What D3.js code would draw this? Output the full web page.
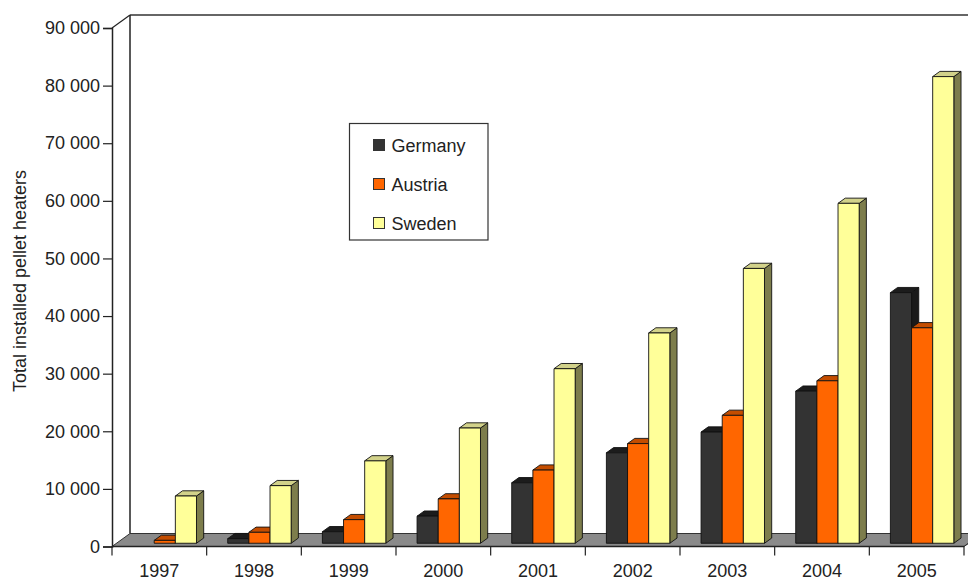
<!DOCTYPE html>
<html>
<head>
<meta charset="utf-8">
<script src="https://cdn.jsdelivr.net/npm/d3@7/dist/d3.min.js"></script>
<style>
  html, body { margin: 0; padding: 0; background: #ffffff; }
  svg { display: block; font-family: "Liberation Sans", Arial, sans-serif; }
</style>
</head>
<body>
<svg id="chart" width="968" height="580"></svg>
<script>
// Installed pellet heaters per country, 1997–2005
const years = ["1997", "1998", "1999", "2000", "2001", "2002", "2003", "2004", "2005"];
const countries = ["Germany", "Austria", "Sweden"];
const germany = [0, 800, 2000, 4700, 10500, 15700, 19300, 26400, 43500];
const austria = [500, 1900, 4100, 7700, 12700, 17300, 22200, 28200, 37400];
const sweden  = [8200, 10000, 14300, 20000, 30300, 36500, 47700, 59000, 81000];
const yTickValues = [0, 10000, 20000, 30000, 40000, 50000, 60000, 70000, 80000, 90000];
const yTitle = "Total installed pellet heaters";

const seriesValues = { Germany: germany, Austria: austria, Sweden: sweden };

// face colours: front, top, side
const palette = {
  Germany: { front: "#333333", top: "#1c1c1c", side: "#1a1a1a" },
  Austria: { front: "#ff6600", top: "#c44d00", side: "#9e3f00" },
  Sweden:  { front: "#ffff99", top: "#d2d28a", side: "#7d7d4c" }
};

const svg = d3.select("#chart");

// front plane geometry and oblique depth offset
const left = 112, right = 964, base = 546.5, topY = 28;
const DX = 18, DY = -13;          // full floor depth projected
const z0 = 0.25, z1 = 0.65;        // bar depth extent (fraction of floor)

const x0 = d3.scaleBand().domain(years).range([left, right]);
const bw = x0.bandwidth();
const x1 = d3.scaleBand().domain(countries).range([bw * 0.175, bw * 0.845]);
const y = d3.scaleLinear().domain([0, 90000]).range([base, topY]);

const proj = (x, yy, z) => [x + z * DX, yy + z * DY];
const poly = pts => pts.map(p => p.join(",")).join(" ");

// left side wall and back wall outline
const wall = svg.append("g");
wall.append("polygon")
  .attr("points", poly([[left, base], [left, topY], proj(left, topY, 1), proj(left, base, 1)]))
  .attr("fill", "#ffffff");
wall.append("line")
  .attr("x1", left + DX).attr("y1", topY + DY).attr("x2", 968).attr("y2", topY + DY)
  .attr("stroke", "#666").attr("stroke-width", 2);
wall.append("line")
  .attr("x1", left + DX).attr("y1", topY + DY).attr("x2", left + DX).attr("y2", base + DY)
  .attr("stroke", "#222").attr("stroke-width", 1.5);
wall.append("line")
  .attr("x1", left).attr("y1", topY).attr("x2", left + DX).attr("y2", topY + DY)
  .attr("stroke", "#222").attr("stroke-width", 1.2);

// floor
svg.append("polygon")
  .attr("points", poly([[left, base], [right, base], proj(right, base, 1), proj(left, base, 1)]))
  .attr("fill", "#8a8a8a")
  .attr("stroke", "#333").attr("stroke-width", 1);

// bars, drawn left to right so each covers its neighbour's side face
const bars = [];
years.forEach((yr, i) => {
  countries.forEach(c => {
    bars.push({ year: yr, country: c, value: seriesValues[c][i] });
  });
});

const gBars = svg.append("g");
bars.filter(d => d.value > 0).forEach(d => {
  const xa = x0(d.year) + x1(d.country);
  const xb = xa + x1.bandwidth();
  const yt = y(d.value), yb = y(0);
  const col = palette[d.country];
  const g = gBars.append("g")
    .attr("stroke", "#111").attr("stroke-width", 0.9).attr("stroke-linejoin", "round");
  // right side face
  g.append("polygon")
    .attr("points", poly([proj(xb, yb, z0), proj(xb, yt, z0), proj(xb, yt, z1), proj(xb, yb, z1)]))
    .attr("fill", col.side);
  // top face
  g.append("polygon")
    .attr("points", poly([proj(xa, yt, z0), proj(xb, yt, z0), proj(xb, yt, z1), proj(xa, yt, z1)]))
    .attr("fill", col.top);
  // front face
  g.append("polygon")
    .attr("points", poly([proj(xa, yb, z0), proj(xb, yb, z0), proj(xb, yt, z0), proj(xa, yt, z0)]))
    .attr("fill", col.front);
});

// y axis
const fmt = d => d3.format(",")(d).replace(/,/g, " ");
const yAxis = svg.append("g")
  .attr("transform", `translate(${left},0)`)
  .call(d3.axisLeft(y).tickValues(yTickValues).tickFormat(fmt).tickSize(9).tickPadding(3));
yAxis.select(".domain").attr("stroke", "#222").attr("stroke-width", 1.5);
yAxis.selectAll(".tick line").attr("stroke", "#222").attr("stroke-width", 1.2);
yAxis.selectAll(".tick text")
  .attr("font-size", 18).attr("fill", "#222")
  .attr("font-family", "'Liberation Sans', Arial, sans-serif");

// x axis: labels centred in each category, ticks on category boundaries
const xAxis = svg.append("g")
  .attr("transform", `translate(0,${base})`)
  .call(d3.axisBottom(x0).tickSize(0).tickPadding(0));
xAxis.select(".domain").remove();
xAxis.selectAll(".tick text")
  .attr("y", 30.5).attr("dy", null)
  .attr("font-size", 18).attr("fill", "#222")
  .attr("font-family", "'Liberation Sans', Arial, sans-serif");
xAxis.append("line")
  .attr("x1", left).attr("x2", right).attr("y1", 0).attr("y2", 0)
  .attr("stroke", "#222").attr("stroke-width", 1.5);
const bounds = years.map(d => x0(d)).concat([right]);
xAxis.selectAll(".bound")
  .data(bounds).enter().append("line")
  .attr("class", "bound")
  .attr("x1", d => d).attr("x2", d => d)
  .attr("y1", 0).attr("y2", 9)
  .attr("stroke", "#222").attr("stroke-width", 1.2);
// right floor edge
svg.append("line")
  .attr("x1", right).attr("y1", base).attr("x2", right + DX).attr("y2", base + DY)
  .attr("stroke", "#333").attr("stroke-width", 1);

// y axis title
svg.append("text")
  .attr("transform", "translate(26,281) rotate(-90)")
  .attr("text-anchor", "middle")
  .attr("font-size", 18).attr("fill", "#222")
  .text(yTitle);

// legend
const legend = svg.append("g").attr("transform", "translate(349.5,123.5)");
legend.append("rect")
  .attr("width", 138.5).attr("height", 116.5)
  .attr("fill", "#ffffff").attr("stroke", "#333").attr("stroke-width", 1.2);
const item = legend.selectAll(".item")
  .data(countries).enter().append("g")
  .attr("class", "item")
  .attr("transform", (d, i) => `translate(24,${16 + i * 39})`);
item.append("rect")
  .attr("width", 11).attr("height", 11)
  .attr("fill", d => palette[d].front)
  .attr("stroke", "#333").attr("stroke-width", 1);
item.append("text")
  .attr("x", 18).attr("y", 12)
  .attr("font-size", 18).attr("fill", "#222")
  .text(d => d);
</script>
</body>
</html>
